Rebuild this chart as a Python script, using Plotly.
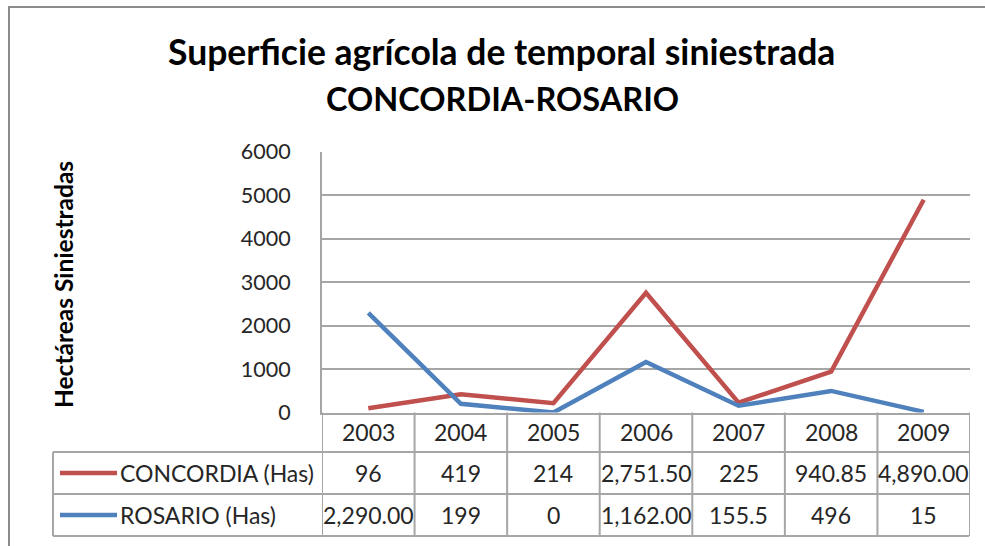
import plotly.graph_objects as go

# ---- data -------------------------------------------------------------
years = ["2003", "2004", "2005", "2006", "2007", "2008", "2009"]
concordia = [96, 419, 214, 2751.5, 225, 940.85, 4890.0]
rosario = [2290.0, 199, 0, 1162.0, 155.5, 496, 15]
concordia_text = ["96", "419", "214", "2,751.50", "225", "940.85", "4,890.00"]
rosario_text = ["2,290.00", "199", "0", "1,162.00", "155.5", "496", "15"]
series_names = ["CONCORDIA (Has)", "ROSARIO (Has)"]
y_ticks = [0, 1000, 2000, 3000, 4000, 5000, 6000]

# ---- geometry helpers (pixel -> paper) -------------------------------
W, H = 985, 546
def px(x):
    return x / W
def py(y):
    return 1 - y / H

RED = "#C0504D"
BLUE = "#4F81BD"
GRID = "#A6A6A6"
TEXT = "#262626"
FONT = "Lato"
CELL = 23

plot_left, plot_right = 322, 970
plot_top, plot_bottom = 151.5, 412.5
row_header = (plot_bottom, 452)
row1 = (452, 494)
row2 = (494, 536)
legend_left = 53

fig = go.Figure()
fig.add_trace(go.Scatter(x=years, y=concordia, mode="lines", name=series_names[0],
                         line=dict(color=RED, width=4.5), hoverinfo="skip"))
fig.add_trace(go.Scatter(x=years, y=rosario, mode="lines", name=series_names[1],
                         line=dict(color=BLUE, width=4.5), hoverinfo="skip"))

shapes = []
ann = []

# outer chart frame: an open path along the top and left edges
frame_path = "M {:.5f},{:.5f} L {:.5f},{:.5f} L {:.5f},{:.5f}".format(
    1.0, py(7), px(9), py(7), px(9), 0.0)
shapes.append(dict(type="path", xref="paper", yref="paper", path=frame_path,
                   line=dict(color="#8C8C8C", width=2), fillcolor="rgba(0,0,0,0)"))

# data table: horizontal rules
for yy in (row1[0], row2[0], row2[1]):
    shapes.append(dict(type="line", xref="paper", yref="paper",
                       x0=px(legend_left), x1=px(plot_right - 1), y0=py(yy), y1=py(yy),
                       line=dict(color=GRID, width=2)))
# legend column left edge
shapes.append(dict(type="line", xref="paper", yref="paper",
                   x0=px(legend_left), x1=px(legend_left), y0=py(row1[0]), y1=py(row2[1]),
                   line=dict(color=GRID, width=2)))
# column boundaries aligned with the category axis
for i in range(len(years) + 1):
    shapes.append(dict(type="line", xref="x", yref="paper",
                       x0=i - 0.5, x1=i - 0.5, y0=py(row_header[0]), y1=py(row2[1]),
                       line=dict(color=GRID, width=2)))

# legend keys inside the table
for (r0, r1), col, name in ((row1, RED, series_names[0]), (row2, BLUE, series_names[1])):
    yc = (r0 + r1) / 2
    shapes.append(dict(type="line", xref="paper", yref="paper",
                       x0=px(60), x1=px(117), y0=py(yc), y1=py(yc),
                       line=dict(color=col, width=4.5)))
    ann.append(dict(text=name, xref="paper", yref="paper", x=px(118), y=py(yc),
                    xanchor="left", yanchor="middle", showarrow=False,
                    font=dict(family=FONT, size=CELL, color=TEXT)))

# table cells
for i, yr in enumerate(years):
    ann.append(dict(text=yr, xref="x", yref="paper", x=i, y=py(sum(row_header) / 2),
                    xanchor="center", yanchor="middle", showarrow=False,
                    font=dict(family=FONT, size=CELL, color=TEXT)))
    ann.append(dict(text=concordia_text[i], xref="x", yref="paper", x=i, y=py(sum(row1) / 2),
                    xanchor="center", yanchor="middle", showarrow=False,
                    font=dict(family=FONT, size=CELL, color=TEXT)))
    ann.append(dict(text=rosario_text[i], xref="x", yref="paper", x=i, y=py(sum(row2) / 2),
                    xanchor="center", yanchor="middle", showarrow=False,
                    font=dict(family=FONT, size=CELL, color=TEXT)))

# title lines
ann.append(dict(text="<b>Superficie agrícola de temporal siniestrada</b>", xref="paper", yref="paper",
                x=px(501), y=py(51), xanchor="center", yanchor="middle", showarrow=False,
                font=dict(family=FONT, size=35.5, color="#000000")))
ann.append(dict(text="<b>CONCORDIA-ROSARIO</b>", xref="paper", yref="paper",
                x=px(503), y=py(98), xanchor="center", yanchor="middle", showarrow=False,
                font=dict(family=FONT, size=32.5, color="#000000")))

# y-axis title
ann.append(dict(text="<b>Hectáreas Siniestradas</b>", xref="paper", yref="paper",
                x=px(63), y=py(285), xanchor="center", yanchor="middle", showarrow=False,
                textangle=-90, font=dict(family=FONT, size=24.5, color="#000000")))

fig.update_layout(
    template="none",
    width=W, height=H,
    margin=dict(l=0, r=0, t=0, b=0, pad=0, autoexpand=False),
    paper_bgcolor="white", plot_bgcolor="white",
    showlegend=False,
    shapes=shapes, annotations=ann,
    xaxis=dict(type="category", domain=[px(plot_left), px(plot_right)],
               range=[-0.5, len(years) - 0.5], showticklabels=False, ticks="",
               showgrid=False, zeroline=False, showline=True, linecolor=GRID, linewidth=2,
               automargin=False),
    yaxis=dict(domain=[py(plot_bottom), py(plot_top)], range=[0, 6000],
               tickvals=y_ticks, ticktext=[str(v) for v in y_ticks],
               tickfont=dict(family=FONT, size=21.5, color=TEXT),
               showgrid=True, gridcolor=GRID, gridwidth=2, zeroline=False,
               showline=True, linecolor=GRID, linewidth=2, ticks="",
               ticklabelstandoff=25, automargin=False),
)

fig.write_html(
    "out.html",
    config={"displayModeBar": False, "staticPlot": True},
    post_script="document.body.style.margin='0';document.body.style.overflow='hidden';",
)
